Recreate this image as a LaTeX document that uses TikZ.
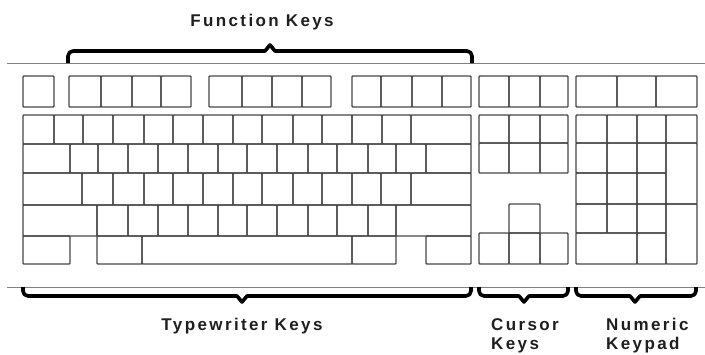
\documentclass[tikz,border=0pt]{standalone}
\usepackage{fontspec}
\setmainfont{Liberation Sans}
\newfontfamily\lblfont[LetterSpace=14]{Liberation Sans}
\begin{document}
\begin{tikzpicture}[x=1pt,y=-1pt,
  key/.style={draw=black!72, line width=1.35pt, rounded corners=0.8pt},
  sepline/.style={draw=black!50, line width=1pt},
  bracepath/.style={draw=black, line width=3.6pt, line join=round, line cap=butt},
  lbl/.style={font=\lblfont\bfseries\fontsize{17}{19}\selectfont, text=black!88, inner sep=0pt}]
\useasboundingbox (0,0) rectangle (705,354);
% separator lines
\coordinate (tl) at (7,63);  \coordinate (tr) at (705,63);
\coordinate (bl) at (7,287); \coordinate (br) at (705,287);
\draw[sepline] (tl) -- (tr);
\draw[sepline] (bl) -- (br);
% function row
\draw[key] (23,76) rectangle (54,107);
\foreach \x [remember=\x as \p (initially 69)] in {101,132,161,191} \draw[key] (\p,76) rectangle (\x,107);
\foreach \x [remember=\x as \p (initially 209)] in {242,272,302,331} \draw[key] (\p,76) rectangle (\x,107);
\foreach \x [remember=\x as \p (initially 352)] in {381,412,442,471} \draw[key] (\p,76) rectangle (\x,107);
\foreach \x [remember=\x as \p (initially 479)] in {509,540,568} \draw[key] (\p,76) rectangle (\x,107);
\foreach \x [remember=\x as \p (initially 576)] in {617,656,697} \draw[key] (\p,76) rectangle (\x,107);
% typewriter rows
\foreach \x [remember=\x as \p (initially 23)] in {54,83,113,144,173,203,233,262,293,322,352,382,411,471} \draw[key] (\p,115) rectangle (\x,144);
\foreach \x [remember=\x as \p (initially 23)] in {70,98,128,158,188,218,247,277,308,337,368,396,426,471} \draw[key] (\p,144) rectangle (\x,173);
\foreach \x [remember=\x as \p (initially 23)] in {82,113,144,173,203,233,262,293,322,352,381,411,471} \draw[key] (\p,173) rectangle (\x,205);
\foreach \x [remember=\x as \p (initially 23)] in {97,128,158,188,218,247,277,308,337,368,396,471} \draw[key] (\p,205) rectangle (\x,236);
\draw[key] (23,236) rectangle (70,264);
\draw[key] (97,236) rectangle (142,264);
\draw[key] (142,236) rectangle (352,264);
\draw[key] (352,236) rectangle (396,264);
\draw[key] (426,236) rectangle (471,264);
% cursor block
\foreach \y [remember=\y as \q (initially 115)] in {143,173}
  \foreach \x [remember=\x as \p (initially 479)] in {509,540,568} \draw[key] (\p,\q) rectangle (\x,\y);
\draw[key] (509,204) rectangle (540,233);
\foreach \x [remember=\x as \p (initially 479)] in {509,540,568} \draw[key] (\p,233) rectangle (\x,264);
% numeric keypad
\foreach \y [remember=\y as \q (initially 115)] in {143,173,204,233}
  \foreach \x [remember=\x as \p (initially 576)] in {607,637,666} \draw[key] (\p,\q) rectangle (\x,\y);
\draw[key] (666,115) rectangle (697,143);
\draw[key] (666,143) rectangle (697,204);
\draw[key] (666,204) rectangle (697,264);
\draw[key] (576,233) rectangle (637,264);
\draw[key] (637,233) rectangle (666,264);
% braces
\draw[bracepath] (68,63) [rounded corners=5pt] -- (68,51) -- (120,51) [sharp corners] -- (265,51) -- (270,45) -- (275,51) -- (420,51) [rounded corners=5pt] -- (472,51) -- (472,63);
\draw[bracepath] (23,287) [rounded corners=5pt] -- (23,296) -- (80,296) [sharp corners] -- (237,296) -- (242,302) -- (247,296) -- (420,296) [rounded corners=5pt] -- (471,296) -- (471,287);
\draw[bracepath] (479,287) [rounded corners=5pt] -- (479,296) -- (500,296) [sharp corners] -- (519,296) -- (524,302) -- (529,296) -- (545,296) [rounded corners=5pt] -- (568,296) -- (568,287);
\draw[bracepath] (576,287) [rounded corners=5pt] -- (576,296) -- (600,296) [sharp corners] -- (630,296) -- (635,302) -- (640,296) -- (670,296) [rounded corners=5pt] -- (696,296) -- (696,287);
% labels
\node[lbl, anchor=base] (fk) at (262,26) {Function Keys};
\node[lbl, anchor=base] (tk) at (242,330) {Typewriter Keys};
\node[lbl, anchor=base west] (cur1) at (491,330) {Cursor};
\node[lbl, anchor=base west] (cur2) at (491,349) {Keys};
\node[lbl, anchor=base west] (num1) at (606,330) {Numeric};
\node[lbl, anchor=base west] (num2) at (606,349) {Keypad};
\end{tikzpicture}
\end{document}
